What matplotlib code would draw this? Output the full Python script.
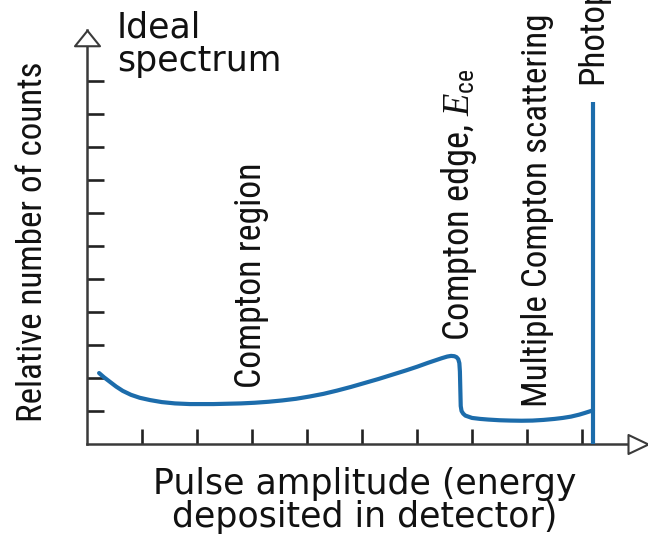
import matplotlib
matplotlib.use("Agg")
import matplotlib.pyplot as plt
from matplotlib.path import Path
from matplotlib import font_manager

# ---- data -------------------------------------------------------------
# pulse amplitude (arbitrary units, 1 unit = one x tick)
spectrum_x = [0.22, 0.31, 0.42, 0.53, 0.65, 0.80, 0.96, 1.15, 1.36, 1.60,
              1.87, 2.05, 2.30, 2.55, 2.80, 3.05, 3.30, 3.55, 3.80, 4.05,
              4.30, 4.55, 4.80, 5.05, 5.30, 5.55, 5.80, 6.00, 6.20, 6.45,
              6.55, 6.62, 6.68, 6.72, 6.75, 6.77, 6.78, 6.79, 6.795, 6.81,
              6.84, 6.88, 7.00, 7.15, 7.30, 7.50, 7.70, 7.90, 8.10, 8.30,
              8.50, 8.65, 8.80, 8.95, 9.05, 9.20]
# relative number of counts (1 unit = one y tick)
spectrum_y = [2.15, 2.02, 1.88, 1.74, 1.61, 1.49, 1.40, 1.33, 1.27, 1.23,
              1.21, 1.21, 1.21, 1.22, 1.23, 1.25, 1.28, 1.32, 1.37, 1.44,
              1.52, 1.62, 1.73, 1.85, 1.97, 2.10, 2.23, 2.34, 2.46, 2.60,
              2.65, 2.67, 2.66, 2.63, 2.57, 2.45, 2.20, 1.50, 1.15, 1.00,
              0.92, 0.86, 0.79, 0.76, 0.74, 0.72, 0.71, 0.705, 0.71, 0.73,
              0.76, 0.79, 0.83, 0.89, 0.94, 1.02]
photopeak_x = [9.20, 9.20]
photopeak_y = [0.0, 10.36]

x_ticks = [1, 2, 3, 4, 5, 6, 7, 8, 9]
y_ticks = [1, 2, 3, 4, 5, 6, 7, 8, 9, 10, 11]

labels_vertical = [
    # text, x(px center), y(px bottom), target length(px)
    ("Compton region", 251, 388, 226),
    (r"Compton edge, $E_{\mathrm{ce}}$", 459, 341, 273),
    ("Multiple Compton scattering", 538, 407, 394),
    ("Photopeak", 593, 84, None),
]

# ---- style ------------------------------------------------------------
W, H = 648, 536
BLUE = "#1c6cab"
AXC = "#3a3a3a"
TXT = "#111111"
available = {f.name for f in font_manager.fontManager.ttflist}
narrow_candidates = ["Liberation Sans Narrow", "Roboto Condensed",
                     "DejaVu Sans Condensed", "Liberation Sans", "DejaVu Sans"]
NARROW_FONT = next(f for f in narrow_candidates if f in available) \
    if any(f in available for f in narrow_candidates) else "DejaVu Sans"
NARROW = [NARROW_FONT, "DejaVu Sans"]
WIDE = ["DejaVu Sans"]

plt.rcParams["mathtext.fontset"] = "custom"
plt.rcParams["mathtext.rm"] = NARROW_FONT
plt.rcParams["mathtext.it"] = "Liberation Serif:italic"

fig = plt.figure(figsize=(W / 100, H / 100), dpi=100)
x0, y0 = 87, 444          # origin in pixels
xr, yt = 648, 30          # right / top end of axes in pixels
ax = fig.add_axes([x0 / W, 1 - y0 / H, (xr - x0) / W, (y0 - yt) / H])
ax.set_xlim(0, (xr - x0) / 55)
ax.set_ylim(0, (y0 - yt) / 33)
ax.patch.set_alpha(0)

for s in ("top", "right"):
    ax.spines[s].set_visible(False)
for s in ("left", "bottom"):
    ax.spines[s].set_color(AXC)
    ax.spines[s].set_linewidth(1.8)

ax.set_xticks(x_ticks)
ax.set_yticks(y_ticks)
ax.set_xticklabels([])
ax.set_yticklabels([])
ax.tick_params(axis="x", direction="in", length=10.8, width=1.9, color="#222222")
ax.tick_params(axis="y", direction="in", length=12.4, width=1.9, color="#222222")

# arrow heads
up = Path([(-1, -0.62), (1, -0.62), (0, 0.62), (-1, -0.62)],
          [Path.MOVETO, Path.LINETO, Path.LINETO, Path.CLOSEPOLY])
right = Path([(-1, -0.95), (-1, 0.95), (1, 0), (-1, -0.95)],
             [Path.MOVETO, Path.LINETO, Path.LINETO, Path.CLOSEPOLY])
ylim_top = ax.get_ylim()[1]
xlim_right = ax.get_xlim()[1]
ax.plot([0], [ylim_top - 8 / 33], marker=up, ms=18, mfc="white", mec=AXC,
        mew=1.5, clip_on=False, zorder=5)
ax.plot([xlim_right - 10 / 55], [0], marker=right, ms=14.4, mfc="white",
        mec=AXC, mew=1.5, clip_on=False, zorder=5)

# spectrum
ax.plot(spectrum_x, spectrum_y, color=BLUE, lw=3, solid_joinstyle="round",
        solid_capstyle="round", clip_on=False, zorder=4)
ax.plot(photopeak_x, photopeak_y, color=BLUE, lw=3, solid_capstyle="butt",
        clip_on=False, zorder=4)

# texts
fig.text(117 / W, 1 - 10 / H, "Ideal\nspectrum", family=WIDE, fontsize=25,
         ha="left", va="top", linespacing=1.0, color=TXT)
fig.text(365 / W, 1 - 467 / H, "Pulse amplitude (energy\ndeposited in detector)",
         family=WIDE, fontsize=25, ha="center", va="top", linespacing=0.97,
         multialignment="center", color=TXT)

renderer = fig.canvas.get_renderer()


def fit_vertical(t, target):
    """Scale font size so the rotated text spans `target` pixels."""
    if target is None:
        return
    h = t.get_window_extent(renderer).height
    t.set_fontsize(t.get_fontsize() * target / h)


ylab = fig.text(33 / W, 1 - 242 / H, "Relative number of counts", family=NARROW,
                fontsize=27.5, rotation=90, ha="center", va="center", color=TXT)
fit_vertical(ylab, 361)

sizes = []
for txt, px, py, target in labels_vertical:
    t = fig.text(px / W, 1 - py / H, txt, family=NARROW, fontsize=27.5,
                 rotation=90, ha="center", va="bottom", color=TXT)
    fit_vertical(t, target)
    if target is None and sizes:
        t.set_fontsize(sizes[-1])
    sizes.append(t.get_fontsize())

fig.savefig("out.png", dpi=100)
